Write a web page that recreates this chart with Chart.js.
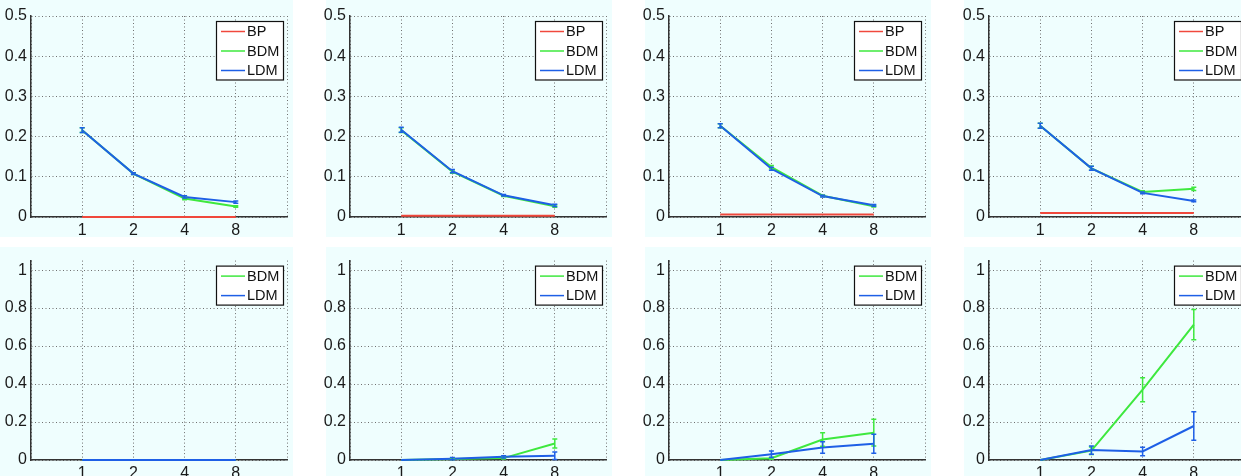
<!DOCTYPE html>
<html>
<head>
<meta charset="utf-8">
<script src="https://cdn.jsdelivr.net/npm/chart.js@4/dist/chart.umd.min.js"></script>
<style>
html, body { margin: 0; padding: 0; background: #fff; overflow: hidden; width: 1241px; height: 476px; }
.panel { position: absolute; background: #effefe; }
.panel canvas { position: absolute; top: 0; display: block; }
</style>
</head>
<body>
<script>
// x categories (evenly spaced at positions 1..4)
const xLabels = ['1', '2', '4', '8'];
const topTicks = [0, 0.1, 0.2, 0.3, 0.4, 0.5];
const bottomTicks = [0, 0.2, 0.4, 0.6, 0.8, 1];

// top row
const bp1 = [0, 0, 0, 0];
const bdm1 = [0.216, 0.108, 0.046, 0.026];
const ldm1 = [0.216, 0.108, 0.050, 0.037];
const bdm1Err = [0.006, 0.002, 0.003, 0.002];
const ldm1Err = [0.006, 0.002, 0.003, 0.003];

const bp2 = [0.003, 0.003, 0.003, 0.003];
const bdm2 = [0.216, 0.113, 0.053, 0.027];
const ldm2 = [0.217, 0.114, 0.054, 0.029];
const bdm2Err = [0.006, 0.004, 0.002, 0.003];
const ldm2Err = [0.006, 0.004, 0.002, 0.003];

const bp3 = [0.006, 0.006, 0.006, 0.006];
const bdm3 = [0.227, 0.124, 0.053, 0.027];
const ldm3 = [0.227, 0.120, 0.052, 0.029];
const bdm3Err = [0.005, 0.004, 0.002, 0.002];
const ldm3Err = [0.005, 0.004, 0.002, 0.002];

const bp4 = [0.010, 0.010, 0.010, 0.010];
const bdm4 = [0.227, 0.121, 0.0625, 0.070];
const ldm4 = [0.227, 0.121, 0.060, 0.040];
const bdm4Err = [0.006, 0.005, 0.003, 0.004];
const ldm4Err = [0.006, 0.005, 0.002, 0.002];

// bottom row
const bdm5 = [0, 0, 0, 0];
const ldm5 = [0, 0, 0, 0];
const bdm5Err = [0, 0, 0, 0];
const ldm5Err = [0, 0, 0, 0];

const bdm6 = [0, 0.005, 0.010, 0.087];
const ldm6 = [0, 0.007, 0.017, 0.022];
const bdm6Err = [0, 0.003, 0.005, 0.024];
const ldm6Err = [0, 0.006, 0.006, 0.020];

const bdm7 = [0, 0.009, 0.108, 0.144];
const ldm7 = [0, 0.030, 0.066, 0.085];
const bdm7Err = [0, 0.005, 0.036, 0.070];
const ldm7Err = [0, 0.017, 0.030, 0.050];

const bdm8 = [0, 0.049, 0.370, 0.713];
const ldm8 = [0, 0.052, 0.045, 0.179];
const bdm8Err = [0, 0.020, 0.063, 0.080];
const ldm8Err = [0, 0.022, 0.022, 0.075];

const RED = '#f0483c';
const GREEN = '#3ee83e';
const BLUE = '#1e5fe6';
const FONT = "'Liberation Sans', Arial, Helvetica, sans-serif";

Chart.defaults.font.family = FONT;
Chart.defaults.color = '#1a1a1a';

const colLeft = [0, 326, 645, 964];     // cyan box left
const plotLeft = [31, 350, 669, 989];
const plotW = 256;
const overhang = 12;                    // tick labels may spill left of the cyan box
const rows = [
    { top: 0, plotTop: 16, plotBottom: 217, bottom: 237, max: 0.5, ticks: topTicks },
    { top: 247, plotTop: 257, plotBottom: 460, bottom: 482, max: 1.05, ticks: bottomTicks }
];

function toPoints(arr) {
    return arr.map(function (v, i) { return { x: i + 1, y: v }; });
}

function series(label, color, values, err, order) {
    return {
        label: label,
        data: toPoints(values),
        err: err,
        borderColor: color,
        backgroundColor: color,
        borderWidth: 2,
        pointRadius: 0,
        tension: 0,
        clip: false,
        order: order
    };
}

const errorBars = {
    id: 'errorBars',
    afterDatasetsDraw: function (chart) {
        const ctx = chart.ctx;
        const xs = chart.scales.x, ys = chart.scales.y;
        const sets = chart.data.datasets.slice().sort(function (a, b) { return b.order - a.order; });
        sets.forEach(function (ds) {
            if (!ds.err) return;
            ctx.save();
            ctx.strokeStyle = ds.borderColor;
            ctx.lineWidth = 1.5;
            ds.data.forEach(function (p, i) {
                const e = ds.err[i];
                if (!e) return;
                const x = xs.getPixelForValue(p.x);
                const y1 = ys.getPixelForValue(p.y + e);
                const y2 = ys.getPixelForValue(Math.max(p.y - e, 0));
                ctx.beginPath();
                ctx.moveTo(x, y1); ctx.lineTo(x, y2);
                ctx.moveTo(x - 2.5, y1); ctx.lineTo(x + 2.5, y1);
                ctx.moveTo(x - 2.5, y2); ctx.lineTo(x + 2.5, y2);
                ctx.stroke();
            });
            ctx.restore();
        });
    }
};

const boxLegend = {
    id: 'boxLegend',
    afterDraw: function (chart) {
        const ctx = chart.ctx;
        const area = chart.chartArea;
        const items = chart.data.datasets.slice().sort(function (a, b) { return b.order - a.order; });
        const w = 68, rowH = 19.5;
        const h = rowH * items.length + 1;
        const left = area.right - 3 - w;
        const top = area.top + 5;
        ctx.save();
        ctx.fillStyle = '#ffffff';
        ctx.fillRect(left, top, w, h);
        ctx.strokeStyle = '#111';
        ctx.lineWidth = 1.2;
        ctx.strokeRect(left + 0.5, top + 0.5, w - 1, h - 1);
        ctx.font = '14.5px ' + FONT;
        ctx.textBaseline = 'middle';
        ctx.fillStyle = '#111';
        items.forEach(function (ds, i) {
            const cy = top + 10.5 + i * rowH;
            ctx.strokeStyle = ds.borderColor;
            ctx.lineWidth = 1.5;
            ctx.beginPath();
            ctx.moveTo(left + 5, cy);
            ctx.lineTo(left + 29, cy);
            ctx.stroke();
            ctx.fillText(ds.label, left + 31, cy + 0.5);
        });
        ctx.restore();
    }
};

function makePanel(col, rowIdx, datasets) {
    const row = rows[rowIdx];
    const cl = colLeft[col];
    const pl = plotLeft[col];
    const cr = pl + plotW + 6;
    const width = cr - cl;
    const height = row.bottom - row.top;

    const div = document.createElement('div');
    div.className = 'panel';
    div.style.left = cl + 'px';
    div.style.top = row.top + 'px';
    div.style.width = width + 'px';
    div.style.height = height + 'px';
    const canvas = document.createElement('canvas');
    canvas.width = width + overhang;
    canvas.height = height;
    canvas.style.left = (-overhang) + 'px';
    div.appendChild(canvas);
    document.body.appendChild(div);

    const yWidth = pl - cl + overhang;
    const xHeight = row.bottom - row.plotBottom;

    new Chart(canvas, {
        type: 'line',
        data: { datasets: datasets },
        options: {
            responsive: false,
            animation: false,
            devicePixelRatio: 1,
            layout: { padding: { left: 0, right: 6, top: row.plotTop - row.top, bottom: 0 } },
            plugins: { legend: { display: false }, tooltip: { enabled: false } },
            scales: {
                x: {
                    type: 'linear',
                    min: 0,
                    max: 5,
                    afterBuildTicks: function (scale) {
                        scale.ticks = [0, 1, 2, 3, 4, 5].map(function (v) { return { value: v }; });
                    },
                    afterFit: function (scale) { scale.height = xHeight; },
                    ticks: {
                        autoSkip: false,
                        maxRotation: 0,
                        padding: 4,
                        font: { size: 16 },
                        callback: function (v) { return xLabels[v - 1] || ''; }
                    },
                    grid: { color: '#707070', lineWidth: 1, drawTicks: false },
                    border: { display: true, color: '#333', width: 1.5, dash: [1, 2.5] }
                },
                y: {
                    min: 0,
                    max: row.max,
                    afterBuildTicks: function (scale) {
                        scale.ticks = row.ticks.map(function (v) { return { value: v }; });
                    },
                    afterFit: function (scale) { scale.width = yWidth; },
                    ticks: {
                        padding: 4,
                        font: { size: 16 },
                        callback: function (v) { return String(v); }
                    },
                    grid: { color: '#707070', lineWidth: 1, drawTicks: false },
                    border: { display: true, color: '#333', width: 1.5, dash: [1, 2.5] }
                }
            }
        },
        plugins: [errorBars, boxLegend]
    });
}

function topPanel(col, bp, bdm, ldm, bdmErr, ldmErr) {
    makePanel(col, 0, [
        series('BP', RED, bp, null, 2),
        series('BDM', GREEN, bdm, bdmErr, 1),
        series('LDM', BLUE, ldm, ldmErr, 0)
    ]);
}
function bottomPanel(col, bdm, ldm, bdmErr, ldmErr) {
    makePanel(col, 1, [
        series('BDM', GREEN, bdm, bdmErr, 1),
        series('LDM', BLUE, ldm, ldmErr, 0)
    ]);
}

topPanel(0, bp1, bdm1, ldm1, bdm1Err, ldm1Err);
topPanel(1, bp2, bdm2, ldm2, bdm2Err, ldm2Err);
topPanel(2, bp3, bdm3, ldm3, bdm3Err, ldm3Err);
topPanel(3, bp4, bdm4, ldm4, bdm4Err, ldm4Err);
bottomPanel(0, bdm5, ldm5, bdm5Err, ldm5Err);
bottomPanel(1, bdm6, ldm6, bdm6Err, ldm6Err);
bottomPanel(2, bdm7, ldm7, bdm7Err, ldm7Err);
bottomPanel(3, bdm8, ldm8, bdm8Err, ldm8Err);
</script>
</body>
</html>
